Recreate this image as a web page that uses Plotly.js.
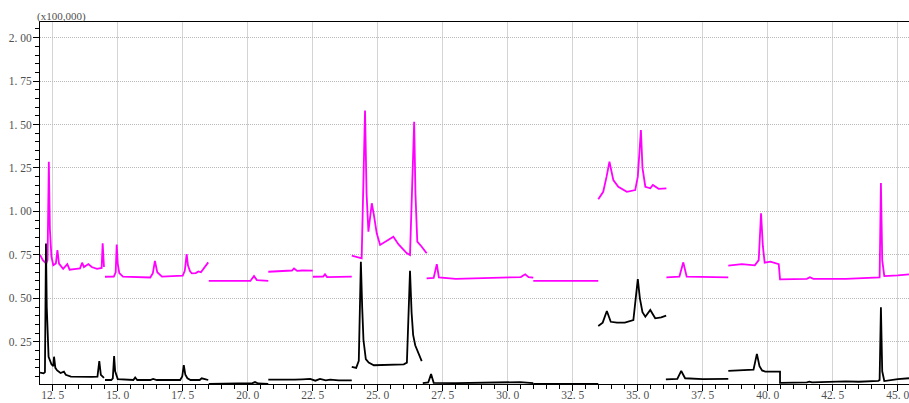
<!DOCTYPE html>
<html>
<head>
<meta charset="utf-8">
<script src="https://cdn.plot.ly/plotly-3.0.1.min.js"></script>
<style>html,body{margin:0;padding:0;background:#fff;}#chart{width:909px;height:403px;}</style>
</head>
<body>
<div id="chart"></div>
<script>
// Retention time (min) and intensity (x100,000); null separates acquisition segments
const blackX = [
  12.01,12.15,12.20,12.24,12.27,12.30,12.34,12.45,12.52,12.55,12.60,12.67,12.80,12.93,13.00,13.20,13.60,14.00,14.22,14.29,14.35,14.47,null,
  14.51,14.75,14.81,14.86,14.90,14.95,15.00,15.60,15.67,15.75,16.25,16.36,16.50,17.40,17.48,17.54,17.60,17.68,17.80,18.15,18.23,18.35,18.48,null,
  18.50,20.00,20.18,20.28,20.40,20.79,null,
  20.79,21.30,21.80,22.10,22.40,22.60,22.78,23.00,23.17,23.50,24.00,null,
  24.00,24.17,24.27,24.35,24.40,24.45,24.54,24.65,24.85,25.50,26.00,26.12,26.24,26.30,26.36,26.44,26.55,26.69,null,
  26.73,26.94,27.05,27.15,28.00,29.00,30.00,30.47,30.98,null,
  30.98,33.48,null,
  33.48,33.65,33.81,33.96,34.20,34.50,34.83,35.00,35.08,35.18,35.29,35.48,35.67,35.90,36.09,null,
  36.08,36.52,36.67,36.82,37.50,38.48,null,
  38.48,39.20,39.45,39.58,39.68,39.78,39.90,40.47,40.47,41.50,41.60,41.70,42.50,43.00,43.50,44.25,44.30,44.35,44.40,44.48,45.00,45.43
];
const blackY = [
  0.072,0.068,0.075,0.816,0.450,0.260,0.164,0.120,0.110,0.164,0.100,0.085,0.070,0.078,0.060,0.050,0.048,0.048,0.050,0.139,0.060,0.042,null,
  0.030,0.030,0.040,0.168,0.080,0.050,0.035,0.030,0.045,0.030,0.030,0.036,0.030,0.030,0.050,0.116,0.060,0.040,0.030,0.030,0.040,0.035,0.030,null,
  0.008,0.008,0.012,0.018,0.010,0.008,null,
  0.032,0.030,0.032,0.034,0.036,0.026,0.036,0.028,0.032,0.028,0.028,null,
  0.106,0.100,0.140,0.710,0.450,0.260,0.150,0.130,0.115,0.118,0.120,0.130,0.659,0.420,0.290,0.230,0.185,0.139,null,
  0.012,0.016,0.064,0.014,0.012,0.013,0.014,0.018,0.012,null,
  0.008,0.008,null,
  0.341,0.360,0.427,0.365,0.360,0.360,0.375,0.611,0.500,0.420,0.394,0.433,0.385,0.390,0.400,null,
  0.034,0.036,0.082,0.040,0.035,0.036,null,
  0.082,0.085,0.090,0.180,0.110,0.085,0.078,0.078,0.014,0.016,0.020,0.016,0.020,0.022,0.020,0.025,0.030,0.448,0.080,0.024,0.035,0.040
];
const magentaX = [
  12.01,12.12,12.25,12.30,12.35,12.39,12.45,12.52,12.62,12.68,12.74,12.90,13.06,13.15,13.40,13.55,13.63,13.70,13.87,14.00,14.20,14.38,14.42,14.47,null,
  14.51,14.85,14.92,14.96,15.00,15.06,15.20,16.25,16.35,16.43,16.52,16.70,17.50,17.58,17.65,17.70,17.78,17.85,18.00,18.10,18.20,18.35,18.48,null,
  18.50,20.10,20.24,20.35,20.79,null,
  20.79,21.40,21.70,21.78,21.90,22.10,22.50,null,
  22.50,22.90,22.97,23.05,24.00,null,
  24.00,24.15,24.38,24.51,24.57,24.64,24.77,24.85,24.96,25.09,25.35,25.60,25.80,26.00,26.12,26.24,26.40,26.45,26.52,26.69,26.88,null,
  26.88,27.15,27.27,27.35,28.00,29.00,30.00,30.50,30.67,30.80,30.98,null,
  30.98,33.48,null,
  33.48,33.67,33.80,33.91,34.06,34.25,34.58,34.90,35.00,35.12,35.18,35.29,35.48,35.58,35.80,36.10,null,
  36.10,36.60,36.75,36.88,38.48,null,
  38.48,39.00,39.50,39.65,39.74,39.81,39.88,40.10,40.42,40.47,41.50,41.62,41.75,42.90,43.00,44.30,44.35,44.40,44.48,45.00,45.43
];
const magentaY = [
  0.749,0.720,0.700,0.720,1.286,0.900,0.740,0.690,0.700,0.778,0.700,0.670,0.697,0.665,0.670,0.672,0.705,0.680,0.697,0.680,0.670,0.675,0.816,0.680,null,
  0.624,0.625,0.650,0.810,0.700,0.645,0.625,0.620,0.645,0.715,0.650,0.625,0.630,0.660,0.755,0.690,0.655,0.644,0.645,0.655,0.650,0.680,0.707,null,
  0.600,0.600,0.628,0.605,0.600,null,
  0.653,0.655,0.660,0.672,0.658,0.660,0.659,null,
  0.624,0.625,0.638,0.622,0.625,null,
  0.745,0.740,0.730,1.580,1.100,0.883,1.047,0.980,0.874,0.807,0.830,0.854,0.810,0.775,0.759,0.749,1.516,1.100,0.826,0.797,0.759,null,
  0.615,0.617,0.697,0.620,0.612,0.615,0.618,0.622,0.638,0.622,0.619,null,
  0.600,0.600,null,
  1.070,1.113,1.200,1.286,1.180,1.142,1.113,1.123,1.200,1.468,1.250,1.142,1.133,1.152,1.130,1.133,null,
  0.621,0.625,0.707,0.625,0.621,null,
  0.688,0.697,0.690,0.720,0.989,0.800,0.705,0.711,0.697,0.609,0.612,0.621,0.612,0.615,0.612,0.621,1.163,0.720,0.628,0.632,0.638
];
// Tick positions and their labels as printed on the instrument report
const xTickVals = [12.5,15.0,17.5,20.0,22.5,25.0,27.5,30.0,32.5,35.0,37.5,40.0,42.5,45.0];
const xTickText = ['12. 5','15. 0','17. 5','20. 0','22. 5','25. 0','27. 5','30. 0','32. 5','35. 0','37. 5','40. 0','42. 5','45. 0'];
const yTickVals = [0.25,0.50,0.75,1.00,1.25,1.50,1.75,2.00];
const yTickText = ['0. 25','0. 50','0. 75','1. 00','1. 25','1. 50','1. 75','2. 00'];
const yUnitLabel = '(x100,000)';

const tickFont = {family: 'Liberation Serif, DejaVu Serif, serif', size: 11.5, color: '#505050'};

const traces = [
  {x: magentaX, y: magentaY, type: 'scatter', mode: 'lines', connectgaps: false,
   line: {color: '#ff00ff', width: 1.8}, hoverinfo: 'skip'},
  {x: blackX, y: blackY, type: 'scatter', mode: 'lines', connectgaps: false,
   line: {color: '#000000', width: 1.8}, hoverinfo: 'skip'}
];

const layout = {
  width: 909, height: 403,
  margin: {l: 40, r: 0, t: 22, b: 19, pad: 0},
  paper_bgcolor: '#ffffff', plot_bgcolor: '#ffffff',
  showlegend: false,
  xaxis: {
    range: [12.01, 45.43], tickmode: 'array', tickvals: xTickVals, ticktext: xTickText,
    ticks: 'outside', ticklen: 6, tickwidth: 1, tickcolor: '#000',
    ticklabelstandoff: -6, ticklabeloverflow: 'allow',
    showgrid: true, gridcolor: '#d4d4d4', gridwidth: 1,
    showline: true, linecolor: '#000', linewidth: 1, mirror: true,
    zeroline: false, tickfont: tickFont,
    minor: {tick0: 12, dtick: 0.5, ticks: 'outside', ticklen: 4, tickcolor: '#000', showgrid: false}
  },
  yaxis: {
    range: [0.007, 2.09], tickmode: 'array', tickvals: yTickVals, ticktext: yTickText,
    ticks: 'outside', ticklen: 6, tickwidth: 1, tickcolor: '#000',
    ticklabelstandoff: -1,
    showgrid: true, gridcolor: '#b8b8b8', gridwidth: 1, griddash: '1px,1px',
    showline: true, linecolor: '#000', linewidth: 1,
    zeroline: false, tickfont: tickFont,
    minor: {tick0: 0, dtick: 0.05, ticks: 'outside', ticklen: 4, tickcolor: '#000', showgrid: false}
  },
  annotations: [{
    text: yUnitLabel, xref: 'paper', yref: 'paper', x: 0, y: 1,
    xanchor: 'left', yanchor: 'bottom', xshift: -5, yshift: -3, showarrow: false,
    font: {family: 'Liberation Serif, DejaVu Serif, serif', size: 11, color: '#505050'}
  }]
};

Plotly.newPlot('chart', traces, layout, {displayModeBar: false, staticPlot: true});
</script>
</body>
</html>
